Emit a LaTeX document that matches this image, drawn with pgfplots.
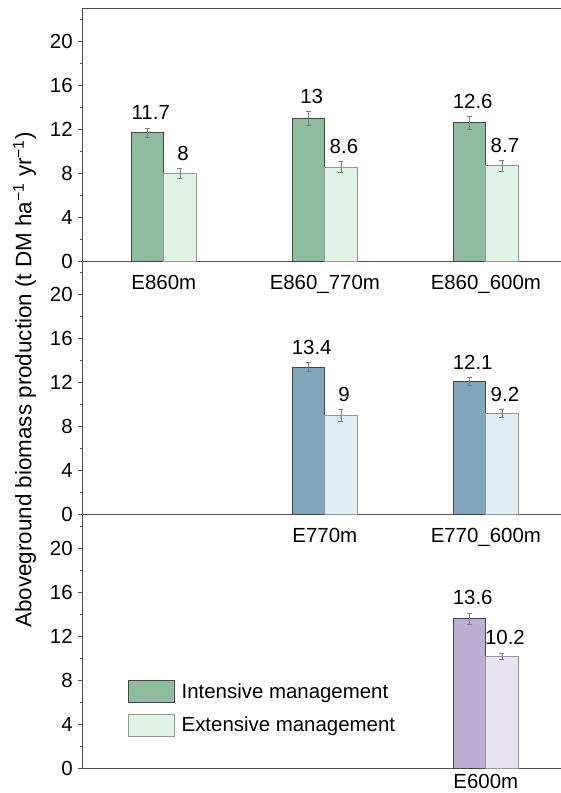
\documentclass[border=0pt]{standalone}
\usepackage{fontspec}
\setmainfont{Liberation Sans}
\usepackage{pgfplots}
\pgfplotsset{compat=1.18}
\definecolor{gI}{RGB}{143,188,158}
\definecolor{gE}{RGB}{224,243,230}
\definecolor{bI}{RGB}{128,166,188}
\definecolor{bE}{RGB}{226,236,245}
\definecolor{pI}{RGB}{189,174,212}
\definecolor{pE}{RGB}{232,227,241}
\definecolor{edI}{RGB}{70,70,70}
\definecolor{edE}{RGB}{150,150,150}
\definecolor{axc}{RGB}{77,77,77}
\newcommand{\fs}{\fontsize{20.5}{24}\selectfont}
\begin{document}
\fs
\begin{tikzpicture}
\pgfplotsset{
  panel/.style={
    scale only axis, width=478.3bp, height=253.4bp,
    xmin=-0.504, xmax=2.467, ymin=0, ymax=23,
    axis x line*=bottom, axis y line*=left,
    axis line style={axc, line width=0.9bp, -},
    ytick={0,4,...,20}, minor ytick={2,6,10,14,18,22},
    tick align=outside, major tick length=4.5bp, minor tick length=2.2bp,
    ytick style={axc, line width=0.8bp},
    minor tick style={axc, line width=0.8bp},
    xtick style={draw=none},
    tick label style={font=\fs},
    yticklabel style={xshift=1.5bp},
    /pgf/number format/assume math mode=true,
    clip=false,
    anchor=south west,
  },
  ibar/.style={ybar, bar width=0.2, bar shift=0pt, fill=#1, draw=edI, line width=0.8bp,
    forget plot,
    error bars/.cd, y dir=both, y explicit,
    error bar style={gray, line width=0.6bp},
    error mark options={rotate=90, gray, mark size=2.5bp, line width=0.6bp}},
  ebar/.style={ybar, bar width=0.2, bar shift=0pt, fill=#1, draw=edE, line width=0.8bp,
    forget plot,
    error bars/.cd, y dir=both, y explicit,
    error bar style={gray, line width=0.6bp},
    error mark options={rotate=90, gray, mark size=2.5bp, line width=0.6bp}},
  vlab/.style={draw=none, mark=none, forget plot, nodes near coords, point meta=explicit symbolic,
    nodes near coords style={anchor=south, inner sep=0pt, yshift=7.7bp, xshift=3bp, font=\fs, text=black}},
}
% ---------- panel 1 ----------
\begin{axis}[panel, at={(82.7bp,-261.7bp)},
  xtick={0,1,2}, xticklabels={E860m,E860\_770m,E860\_600m},
  xticklabel style={yshift=-2.5bp},
  after end axis/.code={\draw[axc, line width=0.9bp] (rel axis cs:0,1) -- (rel axis cs:1,1);}]
\addplot[ibar=gI] coordinates {(-0.1,11.7) +- (0,0.45) (0.9,13) +- (0,0.66) (1.9,12.6) +- (0,0.58)};
\addplot[ebar=gE] coordinates {(0.1,8) +- (0,0.47) (1.1,8.6) +- (0,0.5) (2.1,8.7) +- (0,0.49)};
\addplot[vlab] coordinates {(-0.1,12.15) [11.7] (0.9,13.66) [13] (1.9,13.18) [12.6]};
\addplot[vlab] coordinates {(0.1,8.47) [8] (1.1,9.1) [8.6] (2.1,9.19) [8.7]};
\end{axis}
% ---------- panel 2 ----------
\begin{axis}[panel, at={(82.7bp,-514.7bp)},
  xtick={1,2}, xticklabels={E770m,E770\_600m},
  xticklabel style={yshift=-2.5bp}]
\addplot[ibar=bI] coordinates {(0.9,13.4) +- (0,0.42) (1.9,12.1) +- (0,0.38)};
\addplot[ebar=bE] coordinates {(1.1,9) +- (0,0.55) (2.1,9.2) +- (0,0.35)};
\addplot[vlab] coordinates {(0.9,13.82) [13.4] (1.9,12.48) [12.1]};
\addplot[vlab] coordinates {(1.1,9.55) [9] (2.1,9.55) [9.2]};
\end{axis}
% ---------- panel 3 ----------
\begin{axis}[panel, at={(82.7bp,-768.5bp)},
  xtick={2}, xticklabels={E600m},
  xticklabel style={inner sep=0pt, yshift=-1bp},
  legend image code/.code={\draw[#1] (0bp,-4.2bp) rectangle (46bp,17.8bp);},
  legend style={at={(rel axis cs:0.094,0.3487)}, anchor=north west, draw=none, fill=none,
    inner sep=0pt, row sep=9.9bp, column sep=5bp, font=\fs,
    cells={anchor=base west, inner sep=0pt}}]
\addlegendimage{fill=gI, draw=edI, line width=0.8bp}
\addlegendentry{Intensive management}
\addlegendimage{fill=gE, draw=edE, line width=0.8bp}
\addlegendentry{Extensive management}
\addplot[ibar=pI] coordinates {(1.9,13.6) +- (0,0.53)};
\addplot[ebar=pE] coordinates {(2.1,10.2) +- (0,0.3)};
\addplot[vlab] coordinates {(1.9,14.13) [13.6]};
\addplot[vlab] coordinates {(2.1,10.5) [10.2]};
\end{axis}
\node[rotate=90, font=\fontsize{22.5}{26}\selectfont] at (24.5bp,-380bp) {Aboveground biomass production (t DM ha\textsuperscript{−1} yr\textsuperscript{−1})};
\pgfresetboundingbox
\path[use as bounding box] (0,0) rectangle (561bp,-793bp);
\end{tikzpicture}
\end{document}
